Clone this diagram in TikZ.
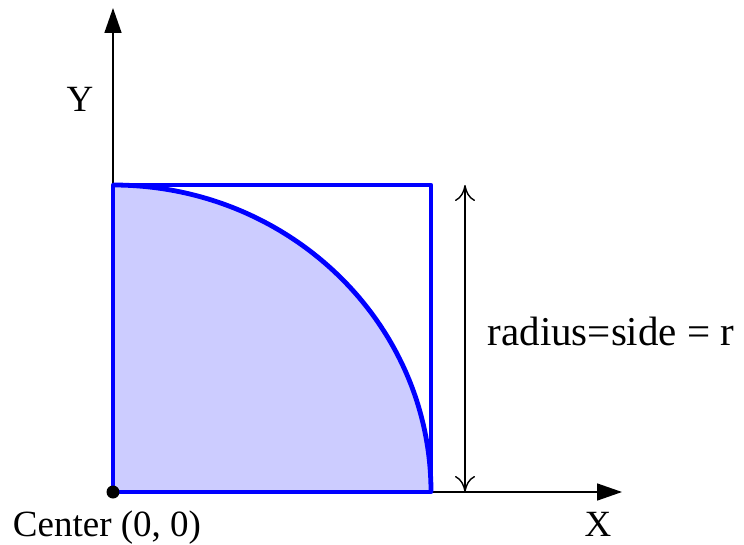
\documentclass[tikz,border=0pt]{standalone}
\usepackage{fontspec}
\setmainfont{Liberation Serif}
\usepackage{tikz}
\usetikzlibrary{arrows.meta,positioning}
\definecolor{qblue}{HTML}{0000FF}
\definecolor{qfill}{HTML}{CCCCFF}

\begin{document}
\begin{tikzpicture}[x=1pt,y=1pt,font=\rmfamily\fontsize{37}{44}\selectfont,
  axis/.style={line width=1.6pt,-{Triangle[length=25pt,width=17pt]}},
  edge/.style={draw=qblue,line width=4.8pt,line join=round},
  dim/.style={line width=1.4pt,{Computer Modern Rightarrow[length=16pt,width=20pt]}-{Computer Modern Rightarrow[length=16pt,width=20pt]}},
  lbl/.style={anchor=base,inner sep=0pt}]
\useasboundingbox (-113,-52) rectangle (631,492);
\coordinate (O) at (0,0);
\coordinate (xend) at (509,0);
\coordinate (yend) at (0,484);
\coordinate (sqT) at (0,307);
\coordinate (sqTR) at (318,307);
\coordinate (dimB) at (352,0);
\coordinate (dimT) at (352,307);
% quarter disc and square
\fill[qfill] (O) -- (sqT) arc[start angle=90,end angle=0,x radius=318,y radius=307] -- cycle;
\draw[axis] (O) -- (xend);
\draw[axis] (O) -- (yend);
\draw[edge] (sqT) arc[start angle=90,end angle=0,x radius=318,y radius=307];
\draw[edge] (O) rectangle (sqTR);
\draw[dim] (dimB) -- (dimT);
\fill (O) circle[radius=6.5];
% labels
\node[lbl] (ylab) at (-33,380) {Y};
\node[lbl] (xlab) at (485,-44) {X};
\node[lbl] (olab) at (-6,-44) {Center (0, 0)};
\node[lbl,font=\rmfamily\fontsize{41}{48}\selectfont] (rlab) at (498,147) {radius=side = r};
\end{tikzpicture}
\end{document}
